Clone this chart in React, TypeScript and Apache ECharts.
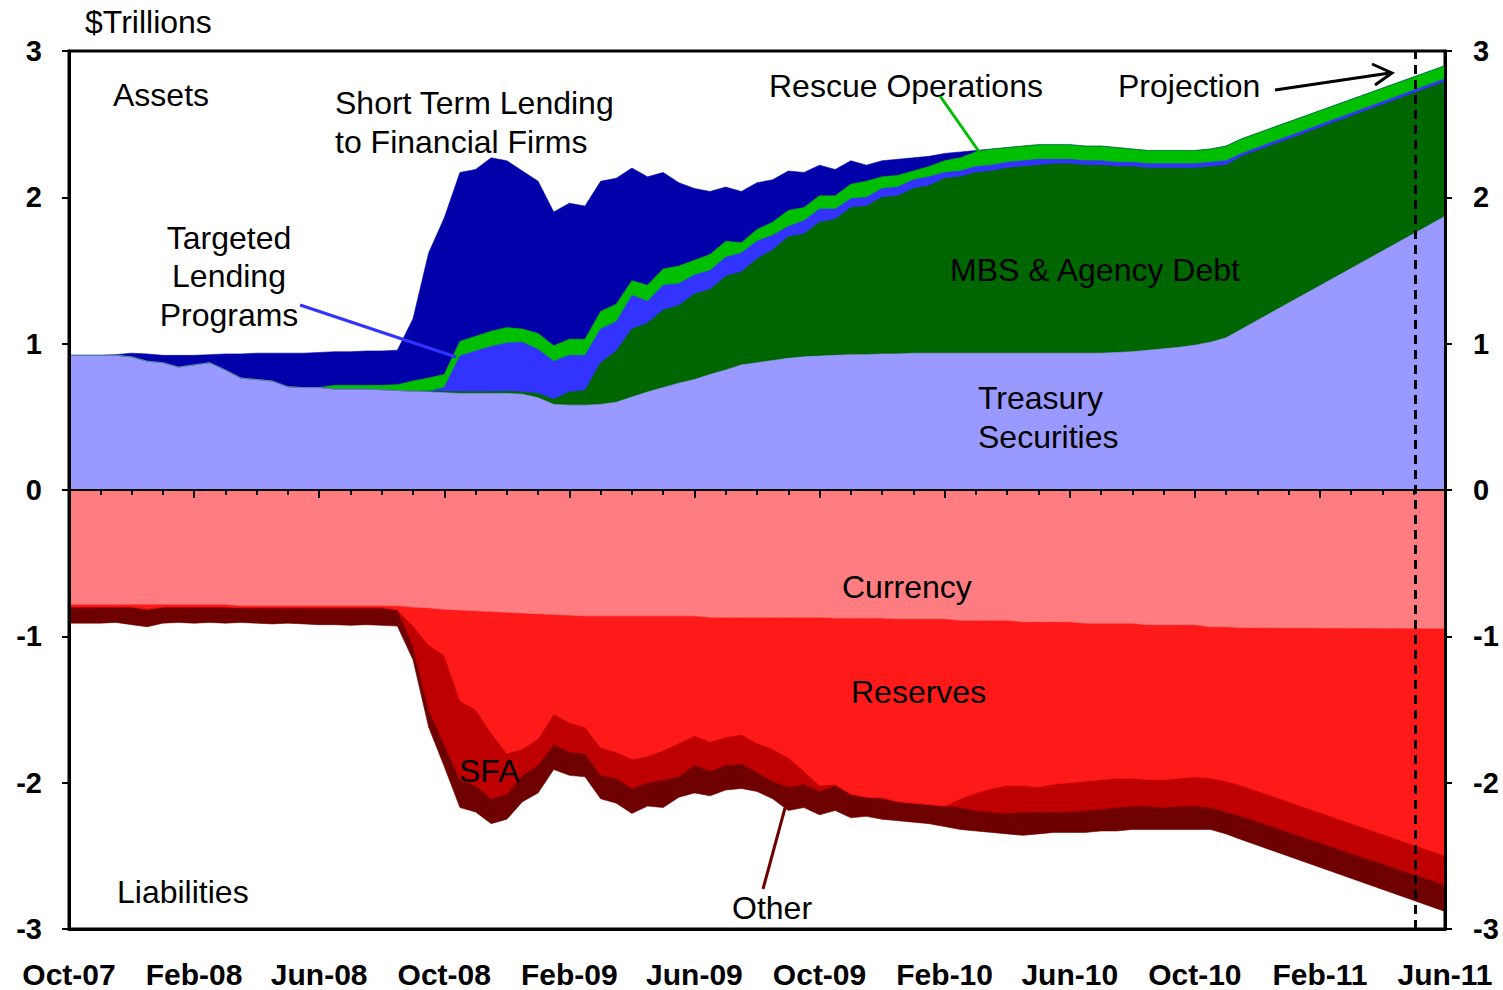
import { useEffect, useRef } from "react";
import * as echarts from "echarts";

// Tick labels (every 4 months, axis in months from Oct-2007)
const monthLabels = ["Oct-07", "Feb-08", "Jun-08", "Oct-08", "Feb-09", "Jun-09", "Oct-09", "Feb-10", "Jun-10", "Oct-10", "Feb-11", "Jun-11"];
const yTicks = [-3, -2, -1, 0, 1, 2, 3];

// Observation dates, in months since Oct-2007 (half-monthly, then projection end)
const months = [
  0, 0.5, 1, 1.5, 2, 2.5, 3, 3.5, 4, 4.5,
  5, 5.5, 6, 6.5, 7, 7.5, 8, 8.5, 9, 9.5,
  10, 10.5, 11, 11.5, 12, 12.5, 13, 13.5, 14, 14.5,
  15, 15.5, 16, 16.5, 17, 17.5, 18, 18.5, 19, 19.5,
  20, 20.5, 21, 21.5, 22, 22.5, 23, 23.5, 24, 24.5,
  25, 25.5, 26, 26.5, 27, 27.5, 28, 28.5, 29, 29.5,
  30, 30.5, 31, 31.5, 32, 32.5, 33, 33.5, 34, 34.5,
  35, 35.5, 36, 36.5, 37, 37.5, 44,
];
const projectionStart = 43.05;

// Assets ($ trillions)
const treasury = [
  0.92, 0.92, 0.92, 0.92, 0.91, 0.88, 0.87, 0.84, 0.855, 0.87,
  0.82, 0.765, 0.755, 0.745, 0.705, 0.70, 0.70, 0.69, 0.69, 0.69,
  0.685, 0.68, 0.675, 0.67, 0.665, 0.66, 0.66, 0.66, 0.66, 0.655,
  0.63, 0.585, 0.58, 0.58, 0.585, 0.60, 0.635, 0.67, 0.70, 0.73,
  0.755, 0.79, 0.82, 0.855, 0.87, 0.885, 0.90, 0.91, 0.915, 0.92,
  0.925, 0.925, 0.93, 0.93, 0.935, 0.935, 0.935, 0.935, 0.935, 0.935,
  0.935, 0.935, 0.935, 0.935, 0.935, 0.935, 0.935, 0.94, 0.945, 0.955,
  0.965, 0.975, 0.99, 1.01, 1.04, 1.10, 1.87,
];
const mbsAgency = [
  0, 0, 0, 0, 0, 0, 0, 0, 0, 0,
  0, 0, 0, 0, 0, 0, 0, 0, 0, 0,
  0, 0, 0, 0.005, 0.01, 0.012, 0.012, 0.012, 0.015, 0.015,
  0.03, 0.035, 0.09, 0.10, 0.285, 0.35, 0.465, 0.47, 0.53, 0.53,
  0.585, 0.58, 0.64, 0.635, 0.71, 0.755, 0.83, 0.84, 0.915, 0.93,
  1.005, 1.015, 1.07, 1.08, 1.125, 1.145, 1.195, 1.205, 1.235, 1.245,
  1.265, 1.275, 1.285, 1.295, 1.295, 1.285, 1.285, 1.27, 1.265, 1.245,
  1.235, 1.225, 1.21, 1.20, 1.18, 1.18, 0.92,
];
const targetedLending = [
  0, 0, 0, 0, 0, 0, 0, 0, 0, 0,
  0, 0, 0, 0, 0, 0, 0, 0, 0, 0,
  0, 0, 0, 0, 0.025, 0.243, 0.278, 0.308, 0.33, 0.34,
  0.30, 0.26, 0.25, 0.24, 0.23, 0.20, 0.23, 0.15, 0.17, 0.15,
  0.13, 0.13, 0.13, 0.13, 0.12, 0.10, 0.07, 0.09, 0.09, 0.07,
  0.06, 0.06, 0.06, 0.06, 0.06, 0.06, 0.04, 0.04, 0.04, 0.04,
  0.04, 0.04, 0.04, 0.03, 0.03, 0.03, 0.03, 0.03, 0.03, 0.03,
  0.03, 0.03, 0.03, 0.03, 0.03, 0.02, 0.02,
];
const rescueOps = [
  0, 0, 0, 0, 0, 0, 0, 0, 0, 0,
  0, 0, 0, 0, 0, 0, 0, 0.025, 0.025, 0.025,
  0.03, 0.04, 0.07, 0.09, 0.09, 0.10, 0.10, 0.105, 0.105, 0.09,
  0.11, 0.105, 0.11, 0.11, 0.12, 0.12, 0.10, 0.11, 0.11, 0.12,
  0.10, 0.11, 0.11, 0.07, 0.08, 0.09, 0.11, 0.09, 0.09, 0.09,
  0.10, 0.11, 0.08, 0.08, 0.06, 0.07, 0.08, 0.09, 0.10, 0.11,
  0.10, 0.10, 0.10, 0.10, 0.10, 0.10, 0.10, 0.10, 0.09, 0.09,
  0.09, 0.09, 0.09, 0.09, 0.10, 0.10, 0.09,
];
const shortTermLending = [
  0, 0, 0, 0.005, 0.025, 0.05, 0.05, 0.08, 0.065, 0.055,
  0.11, 0.165, 0.18, 0.19, 0.23, 0.235, 0.24, 0.23, 0.23, 0.235,
  0.235, 0.235, 0.425, 0.855, 1.07, 1.155, 1.14, 1.185, 1.14, 1.08,
  1.04, 0.915, 0.93, 0.91, 0.89, 0.86, 0.77, 0.74, 0.66, 0.57,
  0.49, 0.43, 0.37, 0.35, 0.32, 0.29, 0.27, 0.24, 0.21, 0.18,
  0.16, 0.11, 0.11, 0.11, 0.09, 0.07, 0.05, 0.04, 0.01, 0,
  0, 0, 0, 0, 0, 0, 0, 0, 0, 0,
  0, 0, 0, 0, 0, 0, 0,
];

// Liabilities ($ trillions, negative)
const currency = [
  -0.78, -0.78, -0.78, -0.78, -0.78, -0.78, -0.78, -0.78, -0.78, -0.78,
  -0.78, -0.79, -0.79, -0.79, -0.79, -0.79, -0.79, -0.79, -0.79, -0.79,
  -0.79, -0.79, -0.80, -0.805, -0.815, -0.82, -0.825, -0.83, -0.835, -0.84,
  -0.845, -0.85, -0.855, -0.86, -0.86, -0.86, -0.86, -0.86, -0.86, -0.86,
  -0.86, -0.87, -0.87, -0.87, -0.87, -0.87, -0.87, -0.87, -0.87, -0.875,
  -0.875, -0.875, -0.875, -0.88, -0.88, -0.88, -0.88, -0.89, -0.89, -0.89,
  -0.89, -0.90, -0.90, -0.90, -0.90, -0.91, -0.91, -0.91, -0.91, -0.92,
  -0.92, -0.92, -0.92, -0.935, -0.935, -0.94, -0.945,
];
const reserves = [
  -0.02, -0.02, -0.02, -0.02, -0.02, -0.035, -0.02, -0.02, -0.02, -0.02,
  -0.02, -0.015, -0.015, -0.015, -0.015, -0.015, -0.015, -0.015, -0.015, -0.015,
  -0.015, -0.03, -0.13, -0.255, -0.315, -0.62, -0.675, -0.83, -0.965, -0.93,
  -0.855, -0.68, -0.735, -0.76, -0.90, -0.93, -0.98, -0.96, -0.92, -0.87,
  -0.82, -0.85, -0.82, -0.80, -0.86, -0.90, -0.96, -1.05, -1.15, -1.135,
  -1.205, -1.225, -1.225, -1.25, -1.26, -1.27, -1.28, -1.22, -1.18, -1.15,
  -1.13, -1.12, -1.13, -1.11, -1.10, -1.08, -1.07, -1.06, -1.06, -1.06,
  -1.06, -1.05, -1.04, -1.035, -1.055, -1.08, -1.555,
];
const sfa = [
  0, 0, 0, 0, 0, 0, 0, 0, 0, 0,
  0, 0, 0, 0, 0, 0, 0, 0, 0, 0,
  0, 0, -0.14, -0.44, -0.61, -0.54, -0.52, -0.45, -0.28, -0.18,
  -0.18, -0.21, -0.20, -0.18, -0.19, -0.18, -0.20, -0.18, -0.20, -0.23,
  -0.20, -0.20, -0.19, -0.20, -0.20, -0.22, -0.20, -0.09, -0.04, -0.01,
  0, 0, -0.01, 0, 0, 0, 0, -0.06, -0.12, -0.16,
  -0.19, -0.18, -0.17, -0.19, -0.20, -0.20, -0.20, -0.20, -0.19, -0.18,
  -0.19, -0.19, -0.20, -0.20, -0.21, -0.21, -0.20,
];
const otherLiab = [
  -0.11, -0.11, -0.11, -0.105, -0.12, -0.12, -0.11, -0.105, -0.11, -0.105,
  -0.11, -0.10, -0.105, -0.11, -0.105, -0.11, -0.115, -0.115, -0.12, -0.115,
  -0.12, -0.11, -0.09, -0.12, -0.15, -0.19, -0.18, -0.17, -0.17, -0.18,
  -0.19, -0.17, -0.16, -0.16, -0.16, -0.17, -0.17, -0.16, -0.19, -0.14,
  -0.19, -0.17, -0.17, -0.17, -0.13, -0.12, -0.16, -0.16, -0.16, -0.17,
  -0.16, -0.13, -0.14, -0.13, -0.13, -0.13, -0.14, -0.15, -0.14, -0.14,
  -0.14, -0.16, -0.15, -0.14, -0.14, -0.15, -0.15, -0.16, -0.16, -0.16,
  -0.15, -0.16, -0.16, -0.15, -0.15, -0.16, -0.18,
];

const FONT = "'Liberation Sans', Arial, Helvetica, sans-serif";

export default function App() {
  const ref = useRef<HTMLDivElement>(null);

  useEffect(() => {
    if (!ref.current) return;
    const chart = echarts.init(ref.current, null, { renderer: "svg" });

    // cumulative boundaries (each layer drawn from 0 to its cumulative top, outermost first)
    const cumulate = (layers: number[][]) => {
      const out: number[][] = [];
      let run = months.map(() => 0);
      layers.forEach((layer) => {
        run = run.map((v, i) => +(v + layer[i]).toFixed(4));
        out.push(run);
      });
      return out;
    };
    const assetCum = cumulate([treasury, mbsAgency, targetedLending, rescueOps, shortTermLending]);
    const liabCum = cumulate([currency, reserves, sfa, otherLiab]);

    const area = (name: string, vals: number[], color: string, extra: any = {}) => ({
      name,
      type: "line",
      data: months.map((m, i) => [m, vals[i]]),
      symbol: "none",
      showSymbol: false,
      silent: true,
      lineStyle: { width: 0.6, color },
      itemStyle: { color },
      areaStyle: { color, opacity: 1, origin: 0 },
      emphasis: { disabled: true },
      ...extra,
    });

    const txt = (text: string, x: number, y: number, align: string = "left") => ({
      type: "text",
      x,
      y,
      z: 100,
      silent: true,
      style: {
        text,
        font: `32px ${FONT}`,
        fill: "#000",
        align,
        verticalAlign: "middle",
        textAlign: align,
        textVerticalAlign: "middle",
      },
    });
    const seg = (x1: number, y1: number, x2: number, y2: number, stroke: string) => ({
      type: "line",
      z: 100,
      silent: true,
      shape: { x1, y1, x2, y2 },
      style: { stroke, lineWidth: 3 },
    });

    const yAxisBase = (position: string, margin: number) => ({
      type: "value",
      position,
      z: 10,
      min: yTicks[0],
      max: yTicks[yTicks.length - 1],
      interval: 1,
      axisLine: { show: true, onZero: false, lineStyle: { color: "#000", width: 3 } },
      axisTick: { show: true, length: 7, lineStyle: { color: "#000", width: 2 } },
      splitLine: { show: false },
      axisLabel: {
        margin,
        color: "#000",
        fontSize: 29,
        fontWeight: "bold",
        fontFamily: FONT,
        formatter: (v: number) => String(v),
      },
    });

    chart.setOption({
      animation: false,
      backgroundColor: "#fff",
      grid: { left: 69, right: 58, top: 51, bottom: 61, show: true, borderColor: "#000", borderWidth: 3, backgroundColor: "transparent" },
      xAxis: [
        {
          type: "value",
          position: "bottom",
          z: 10,
          min: 0,
          max: 44,
          interval: 4,
          axisLine: { show: true, onZero: false, lineStyle: { color: "#000", width: 3 } },
          axisTick: { show: false },
          splitLine: { show: false },
          axisLabel: {
            margin: 30,
            color: "#000",
            fontSize: 30,
            fontWeight: "bold",
            fontFamily: FONT,
            showMinLabel: true,
            showMaxLabel: true,
            formatter: (v: number) => (Math.abs(v % 4) < 1e-6 ? monthLabels[Math.round(v / 4)] ?? "" : ""),
          },
        },
        {
          type: "value",
          position: "bottom",
          z: 10,
          min: 0,
          max: 44,
          interval: 4,
          axisLine: { show: true, onZero: true, lineStyle: { color: "#000", width: 2 } },
          axisTick: { show: true, length: 8, lineStyle: { color: "#000", width: 2 } },
          minorTick: { show: true, splitNumber: 4, length: 5, lineStyle: { color: "#000", width: 2 } },
          axisLabel: { show: false },
          splitLine: { show: false },
          minorSplitLine: { show: false },
        },
      ],
      yAxis: [yAxisBase("left", 27), yAxisBase("right", 28)],
      series: [
        area("Short Term Lending to Financial Firms", assetCum[4], "#0000AA"),
        area("Rescue Operations", assetCum[3], "#00BF00"),
        area("Targeted Lending Programs", assetCum[2], "#3333FF"),
        area("MBS & Agency Debt", assetCum[1], "#006600"),
        area("Treasury Securities", assetCum[0], "#9999FF"),
        area("Other", liabCum[3], "#6E0000"),
        area("SFA", liabCum[2], "#BE0000"),
        area("Reserves", liabCum[1], "#FF1A1A"),
        area("Currency", liabCum[0], "#FF7C80", {
          markLine: {
            silent: true,
            symbol: ["none", "none"],
            label: { show: false },
            lineStyle: { color: "#000", type: [9, 6], width: 3 },
            data: [{ xAxis: projectionStart }],
          },
        }),
      ],
      graphic: [
        txt("$Trillions", 85, 22),
        txt("Assets", 113, 95),
        txt("Short Term Lending", 335, 103),
        txt("to Financial Firms", 335, 142),
        txt("Targeted", 229, 238, "center"),
        txt("Lending", 229, 276, "center"),
        txt("Programs", 229, 315, "center"),
        txt("Rescue Operations", 769, 86),
        txt("Projection", 1118, 86),
        txt("MBS & Agency Debt", 950, 270),
        txt("Treasury", 978, 398),
        txt("Securities", 978, 437),
        txt("Currency", 842, 587),
        txt("Reserves", 851, 692),
        txt("SFA", 459, 771),
        txt("Liabilities", 117, 892),
        txt("Other", 732, 908),
        seg(300, 305, 456, 357, "#3333FF"),
        seg(940, 96, 980, 153, "#00BF00"),
        seg(763, 889, 785, 808, "#6E0000"),
        seg(1275, 90, 1390, 73, "#000"),
        {
          type: "polyline",
          z: 100,
          silent: true,
          shape: { points: [[1372, 64], [1392, 73], [1375, 85]] },
          style: { stroke: "#000", lineWidth: 3, fill: null },
        },
      ],
    });

    return () => chart.dispose();
  }, []);

  return <div ref={ref} style={{ position: "fixed", left: 0, top: 0, width: 1503, height: 990 }} />;
}
